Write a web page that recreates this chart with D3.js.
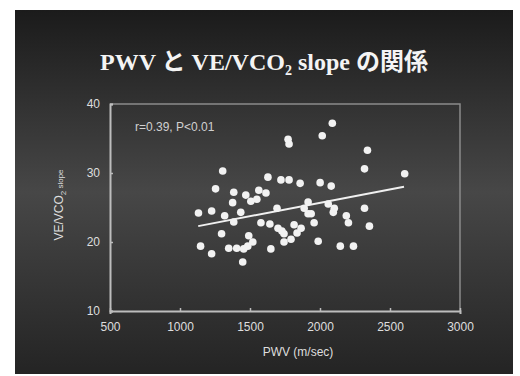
<!DOCTYPE html>
<html>
<head>
<meta charset="utf-8">
<script src="https://cdn.jsdelivr.net/npm/d3@7"></script>
<style>
  html, body { margin: 0; padding: 0; background: #fff; }
  svg { display: block; }
</style>
</head>
<body>
<div id="chart"></div>
<script>
// PWV (m/sec) of each patient
const pwv = [
  1772, 1779, 1305, 1628, 1721, 1779, 1858, 1254, 1384, 1470,
  1563, 1614, 1506, 1549, 1376, 1132, 1226, 1319, 1434, 1693,
  1887, 1384, 1578, 1642, 1700, 1728, 1815, 1865, 1836, 1937,
  1297, 1491, 1520, 1743, 1793, 1743, 1147, 1226, 1348, 1405,
  1455, 1649, 1448, 1987, 2088, 2016, 2339, 2318, 2605, 2001,
  2080, 1915, 2059, 2095, 2102, 2188, 2203, 2318, 2353, 1915,
  1958, 2145, 2239, 1484
];
// VE/VCO2 slope of each patient
const slope = [
  34.9, 34.2, 30.3, 29.4, 29.0, 29.0, 28.5, 27.7, 27.2, 26.8,
  27.5, 27.1, 25.9, 26.2, 25.7, 24.2, 24.5, 23.8, 24.3, 24.9,
  24.9, 22.9, 22.8, 22.6, 22.0, 21.6, 22.5, 22.0, 21.3, 24.1,
  21.2, 20.9, 20.0, 21.2, 20.4, 20.0, 19.4, 18.3, 19.1, 19.1,
  19.0, 19.0, 17.1, 20.1, 37.2, 35.4, 33.3, 30.6, 29.9, 28.6,
  28.1, 25.8, 25.5, 24.3, 24.9, 23.8, 22.8, 24.9, 22.3, 24.1,
  22.8, 19.4, 19.4, 19.4
];
// regression line end points
const fitX = [1130, 2600];
const fitY = [22.3, 28.0];

const xTicks = [500, 1000, 1500, 2000, 2500, 3000];
const yTicks = [10, 20, 30, 40];

const width = 520, height = 376;
const plot = { left: 110, right: 460, top: 104, bottom: 311 };

const svg = d3.select("#chart").append("svg")
  .attr("width", width)
  .attr("height", height);

const defs = svg.append("defs");
const grad = defs.append("linearGradient")
  .attr("id", "bg").attr("x1", 0).attr("y1", 0).attr("x2", 0).attr("y2", 1);
grad.append("stop").attr("offset", "0%").attr("stop-color", "#1b1b1b");
grad.append("stop").attr("offset", "50%").attr("stop-color", "#474747");
grad.append("stop").attr("offset", "100%").attr("stop-color", "#242424");

defs.append("filter").attr("id", "soft")
  .append("feGaussianBlur").attr("stdDeviation", 0.5);

// slide background
svg.append("rect")
  .attr("x", 15).attr("y", 10)
  .attr("width", 498).attr("height", 364)
  .attr("fill", "url(#bg)");

// title
const title = svg.append("text")
  .attr("x", 264).attr("y", 70)
  .attr("text-anchor", "middle")
  .attr("fill", "#f4f4f4")
  .attr("font-family", "'Liberation Serif', 'Noto Sans CJK JP', serif")
  .attr("font-weight", "bold")
  .attr("font-size", 24);
title.append("tspan").text("PWV と VE/VCO");
title.append("tspan").attr("font-size", 14).attr("dy", 5).text("2");
title.append("tspan").attr("dy", -5).text(" slope の関係");

const x = d3.scaleLinear().domain([500, 3000]).range([plot.left, plot.right]);
const y = d3.scaleLinear().domain([10, 40]).range([plot.bottom, plot.top]);

// frame (top and right)
svg.append("path")
  .attr("d", `M${plot.left},${plot.top}H${plot.right}V${plot.bottom}`)
  .attr("fill", "none")
  .attr("stroke", "#8a8a8a")
  .attr("stroke-width", 1.5);

const xAxis = svg.append("g")
  .attr("transform", `translate(0,${plot.bottom})`)
  .call(d3.axisBottom(x).tickValues(xTicks).tickFormat(d3.format("d")).tickSize(3).tickPadding(8));
const yAxis = svg.append("g")
  .attr("transform", `translate(${plot.left},0)`)
  .call(d3.axisLeft(y).tickValues(yTicks).tickFormat(d3.format("d")).tickSize(-3).tickPadding(10));

[xAxis, yAxis].forEach(g => {
  g.select(".domain").attr("stroke", "#bdbdbd").attr("stroke-width", 2);
  g.selectAll(".tick line").attr("stroke", "#bdbdbd").attr("stroke-width", 1.5);
  g.selectAll(".tick text")
    .attr("fill", "#dedede")
    .attr("font-family", "'Liberation Sans', Arial, sans-serif")
    .attr("font-size", 12);
});
xAxis.selectAll(".tick line").attr("y2", -3);

// axis titles
svg.append("text")
  .attr("x", 298).attr("y", 356)
  .attr("text-anchor", "middle")
  .attr("fill", "#dedede")
  .attr("font-family", "'Liberation Sans', Arial, sans-serif")
  .attr("font-size", 12)
  .text("PWV (m/sec)");

const yLab = svg.append("text")
  .attr("transform", "translate(63,205) rotate(-90)")
  .attr("text-anchor", "middle")
  .attr("fill", "#dedede")
  .attr("font-family", "'Liberation Sans', Arial, sans-serif")
  .attr("font-size", 12);
yLab.append("tspan").text("VE/VCO");
yLab.append("tspan").attr("font-size", 8).attr("dy", 3).text("2");
yLab.append("tspan").attr("font-size", 8).attr("dy", -3).text(" slope");

// annotation
svg.append("text")
  .attr("x", 135).attr("y", 131)
  .attr("fill", "#d0d0d0")
  .attr("font-family", "'Liberation Sans', Arial, sans-serif")
  .attr("font-size", 12)
  .text("r=0.39, P<0.01");

// regression line
svg.append("line")
  .attr("x1", x(fitX[0])).attr("y1", y(fitY[0]))
  .attr("x2", x(fitX[1])).attr("y2", y(fitY[1]))
  .attr("stroke", "#f0f0f0")
  .attr("stroke-width", 2);

// points
svg.append("g")
  .attr("filter", "url(#soft)")
  .selectAll("circle")
  .data(pwv.map((v, i) => ({ x: v, y: slope[i] })))
  .enter()
  .append("circle")
  .attr("cx", d => x(d.x))
  .attr("cy", d => y(d.y))
  .attr("r", 3.8)
  .attr("fill", "#f2f2f2");
</script>
</body>
</html>
